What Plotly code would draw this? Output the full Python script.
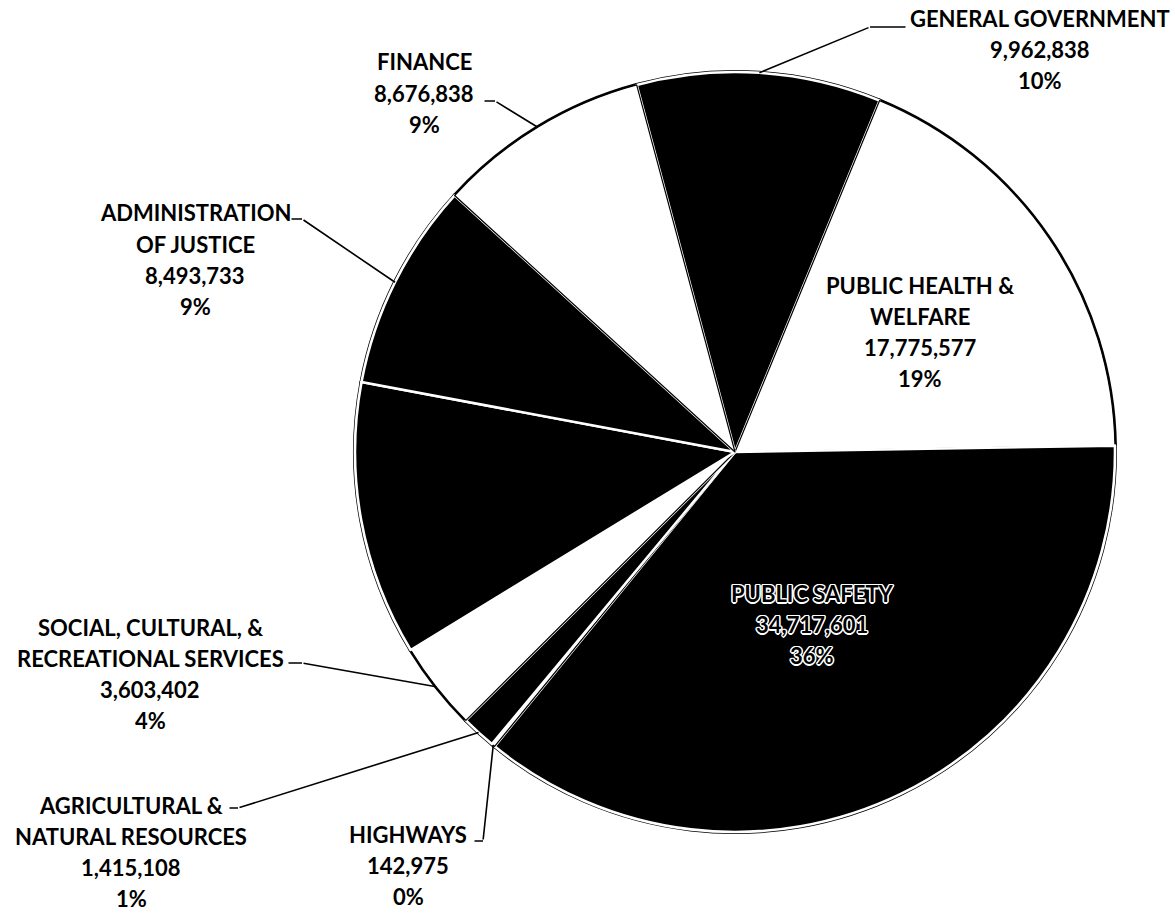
import math
import plotly.graph_objects as go

# ---------------- data ----------------
categories = ["GENERAL GOVERNMENT", "PUBLIC HEALTH & WELFARE", "PUBLIC SAFETY",
              "HIGHWAYS", "AGRICULTURAL & NATURAL RESOURCES",
              "SOCIAL, CULTURAL, & RECREATIONAL SERVICES", "OTHER",
              "ADMINISTRATION OF JUSTICE", "FINANCE"]
values = [9962838, 17775577, 34717601, 142975, 1415108, 3603402, 11200000,
          8493733, 8676838]
label_lines = [["GENERAL GOVERNMENT"], ["PUBLIC HEALTH &", "WELFARE"],
               ["PUBLIC SAFETY"], ["HIGHWAYS"],
               ["AGRICULTURAL &", "NATURAL RESOURCES"],
               ["SOCIAL, CULTURAL, &", "RECREATIONAL SERVICES"], None,
               ["ADMINISTRATION", "OF JUSTICE"], ["FINANCE"]]

# ---------------- styles / layout ----------------
W, H = 1175, 913
CX, CY, R = 735, 452, 380
ROTATION = -15
slice_colors = ["black", "white", "black", "white", "black", "white",
                "black", "black", "white"]
# text block: (center x px, first line y px)
label_pos = [(1040, 18), (920, 285), (812, 593), (408, 834), (131, 805),
             (150, 627), None, (195, 213), (424, 62)]
# leader polylines (text end -> elbow), elbow connects to slice edge
leader = [((907, 27), (870, 27)), None, None, ((473, 841), (483, 841)),
          ((228, 808), (238, 808)), ((287, 663), (302, 663)), None,
          ((290, 219), (302, 219)), ((483, 101), (495, 101))]
LINE_STEP = 31.2
FONT = "Lato"
FONT_SIZE = 22

total = sum(values)
domain_x = [(CX - R) / W, (CX + R) / W]
domain_y = [1 - (CY + R) / H, 1 - (CY - R) / H]

fig = go.Figure()
# base layer: black outline ring + dividers
fig.add_trace(go.Pie(labels=categories, values=values, sort=False,
                     direction="clockwise", rotation=ROTATION,
                     marker=dict(colors=slice_colors,
                                 line=dict(color="black", width=4)),
                     textinfo="none", hoverinfo="label+value+percent",
                     domain=dict(x=domain_x, y=domain_y), showlegend=False))
# top layer: white gaps inside black slices, thin black edge for white ones
fig.add_trace(go.Pie(labels=categories, values=values, sort=False,
                     direction="clockwise", rotation=ROTATION,
                     marker=dict(colors=slice_colors,
                                 line=dict(color=["white" if c == "black" else "black" for c in slice_colors],
                                           width=[2.6 if c == "black" else 1.2 for c in slice_colors])),
                     textinfo="none", hoverinfo="skip",
                     domain=dict(x=domain_x, y=domain_y), showlegend=False))


def px2paper(px, py):
    return px / W, 1 - py / H


def segment(p_from, p_to):
    x, y = px2paper(*p_to)
    return dict(x=x, y=y, xref="paper", yref="paper", text="",
                showarrow=True, arrowhead=0, arrowwidth=1.6,
                arrowcolor="black", standoff=0, startstandoff=0,
                ax=p_from[0] - p_to[0], ay=p_from[1] - p_to[1])


annotations = []
cum = 0
for i, v in enumerate(values):
    mid = math.radians(ROTATION + 360 * (cum + v / 2) / total)
    cum += v
    if label_lines[i] is None:
        continue
    lines = label_lines[i] + [f"{v:,}", f"{round(v / total * 100):.0f}%"]
    cx, y0 = label_pos[i]
    inside = categories[i] == "PUBLIC SAFETY"
    font = dict(family=FONT, size=FONT_SIZE, color="black", weight="bold")
    if inside:
        font["shadow"] = ("1.5px 0 0 white, -1.5px 0 0 white, 0 1.5px 0 white, "
                          "0 -1.5px 0 white, 1px 1px 0 white, -1px -1px 0 white, "
                          "1px -1px 0 white, -1px 1px 0 white")
    for k, t in enumerate(lines):
        x, y = px2paper(cx, y0 + k * LINE_STEP)
        annotations.append(dict(x=x, y=y, xref="paper", yref="paper",
                                text=t, showarrow=False, font=font,
                                xanchor="center", yanchor="middle"))
    if leader[i] is not None:
        edge = (CX + R * math.sin(mid), CY - R * math.cos(mid))
        start, elbow = leader[i]
        annotations.append(segment(start, elbow))
        annotations.append(segment(elbow, edge))

fig.update_layout(width=W, height=H, margin=dict(l=0, r=0, t=0, b=0),
                  paper_bgcolor="white", plot_bgcolor="white",
                  annotations=annotations)

fig.write_html("out.html", config={"displayModeBar": False},
               post_script="document.body.style.margin='0';document.body.style.padding='0';")
